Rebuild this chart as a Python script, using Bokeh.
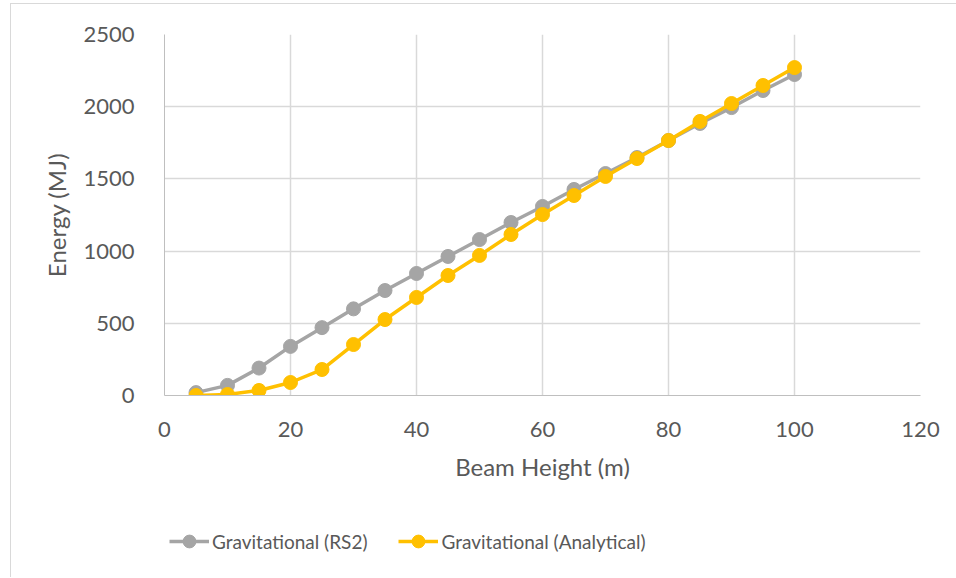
from bokeh.plotting import figure
from bokeh.layouts import column
from bokeh.models import Range1d, FixedTicker, Legend, LegendItem
from bokeh.embed import file_html
from bokeh.resources import INLINE

beam_height = [5, 10, 15, 20, 25, 30, 35, 40, 45, 50, 55, 60, 65, 70, 75, 80, 85, 90, 95, 100]
rs2 = [20, 70, 190, 340, 470, 600, 727, 845, 963, 1080, 1198, 1309, 1427, 1537, 1648, 1766, 1884, 1994, 2112, 2223]
analytical = [0, 7, 35, 90, 180, 353, 526, 679, 831, 970, 1115, 1253, 1385, 1517, 1641, 1766, 1898, 2022, 2147, 2271]
x_ticks = [0, 20, 40, 60, 80, 100, 120]
y_ticks = [0, 500, 1000, 1500, 2000, 2500]
series_names = ["Gravitational (RS2)", "Gravitational (Analytical)"]

FONT = "Lato"
TXT = "#595959"
GRID = "#d9d9d9"
gray = "#a5a5a5"
yellow = "#ffc000"

p = figure(width=946, height=485, output_backend="svg", toolbar_location=None,
           x_range=Range1d(0, 120), y_range=Range1d(0, 2500),
           min_border_left=153, min_border_right=37, min_border_top=30, min_border_bottom=94)
p.outline_line_color = None
p.background_fill_color = "white"
p.border_fill_color = "white"

for ax, ticks in ((p.xaxis, x_ticks), (p.yaxis, y_ticks)):
    ax.ticker = FixedTicker(ticks=ticks)
    ax.major_tick_line_color = None
    ax.minor_tick_line_color = None
    ax.axis_line_color = "#bfbfbf"
    ax.axis_line_width = 1
    ax.major_label_text_font = FONT
    ax.major_label_text_font_size = "22px"
    ax.major_label_text_color = TXT
    ax.axis_label_text_font = FONT
    ax.axis_label_text_font_size = "24px"
    ax.axis_label_text_color = TXT
    ax.axis_label_text_font_style = "normal"

p.xaxis.axis_label = "Beam Height (m)"
p.yaxis.axis_label = "Energy (MJ)"
p.xaxis.major_label_standoff = 20
p.yaxis.major_label_standoff = 24
p.xaxis.axis_label_standoff = 12
p.yaxis.axis_label_standoff = 9

p.xgrid.grid_line_color = GRID
p.ygrid.grid_line_color = GRID
p.xgrid.grid_line_width = 1.5
p.ygrid.grid_line_width = 1.5

p.line(beam_height, rs2, line_color=gray, line_width=3.5)
p.scatter(beam_height, rs2, size=14, fill_color=gray, line_color=gray)
p.line(beam_height, analytical, line_color=yellow, line_width=3.5)
p.scatter(beam_height, analytical, size=14, fill_color=yellow, line_color=yellow)

# legend strip below the chart (series drawn off-frame so only legend glyphs show)
lf = figure(width=946, height=88, output_backend="svg", toolbar_location=None,
            x_range=Range1d(-2, -1), y_range=Range1d(-2, -1),
            x_axis_type=None, y_axis_type=None, min_border=0)
lf.outline_line_color = None
lf.xgrid.visible = False
lf.ygrid.visible = False
ll1 = lf.line(beam_height, rs2, line_color=gray, line_width=3.5)
lm1 = lf.scatter(beam_height, rs2, size=14, fill_color=gray, line_color=gray)
ll2 = lf.line(beam_height, analytical, line_color=yellow, line_width=3.5)
lm2 = lf.scatter(beam_height, analytical, size=14, fill_color=yellow, line_color=yellow)

legend = Legend(items=[LegendItem(label=series_names[0], renderers=[ll1, lm1]),
                       LegendItem(label=series_names[1], renderers=[ll2, lm2])],
                location=(5, 20), orientation="horizontal",
                label_text_font=FONT, label_text_font_size="19px", label_text_color=TXT,
                glyph_width=40, glyph_height=32, label_standoff=3, spacing=31,
                padding=0, margin=0, border_line_color=None, background_fill_alpha=0)
lf.add_layout(legend, "center")

layout = column(p, lf, margin=(3, 0, 0, 10),
                styles={"border-left": "1px solid #d9d9d9", "border-top": "1px solid #d9d9d9"})

open("out.html", "w").write(file_html(layout, INLINE))
